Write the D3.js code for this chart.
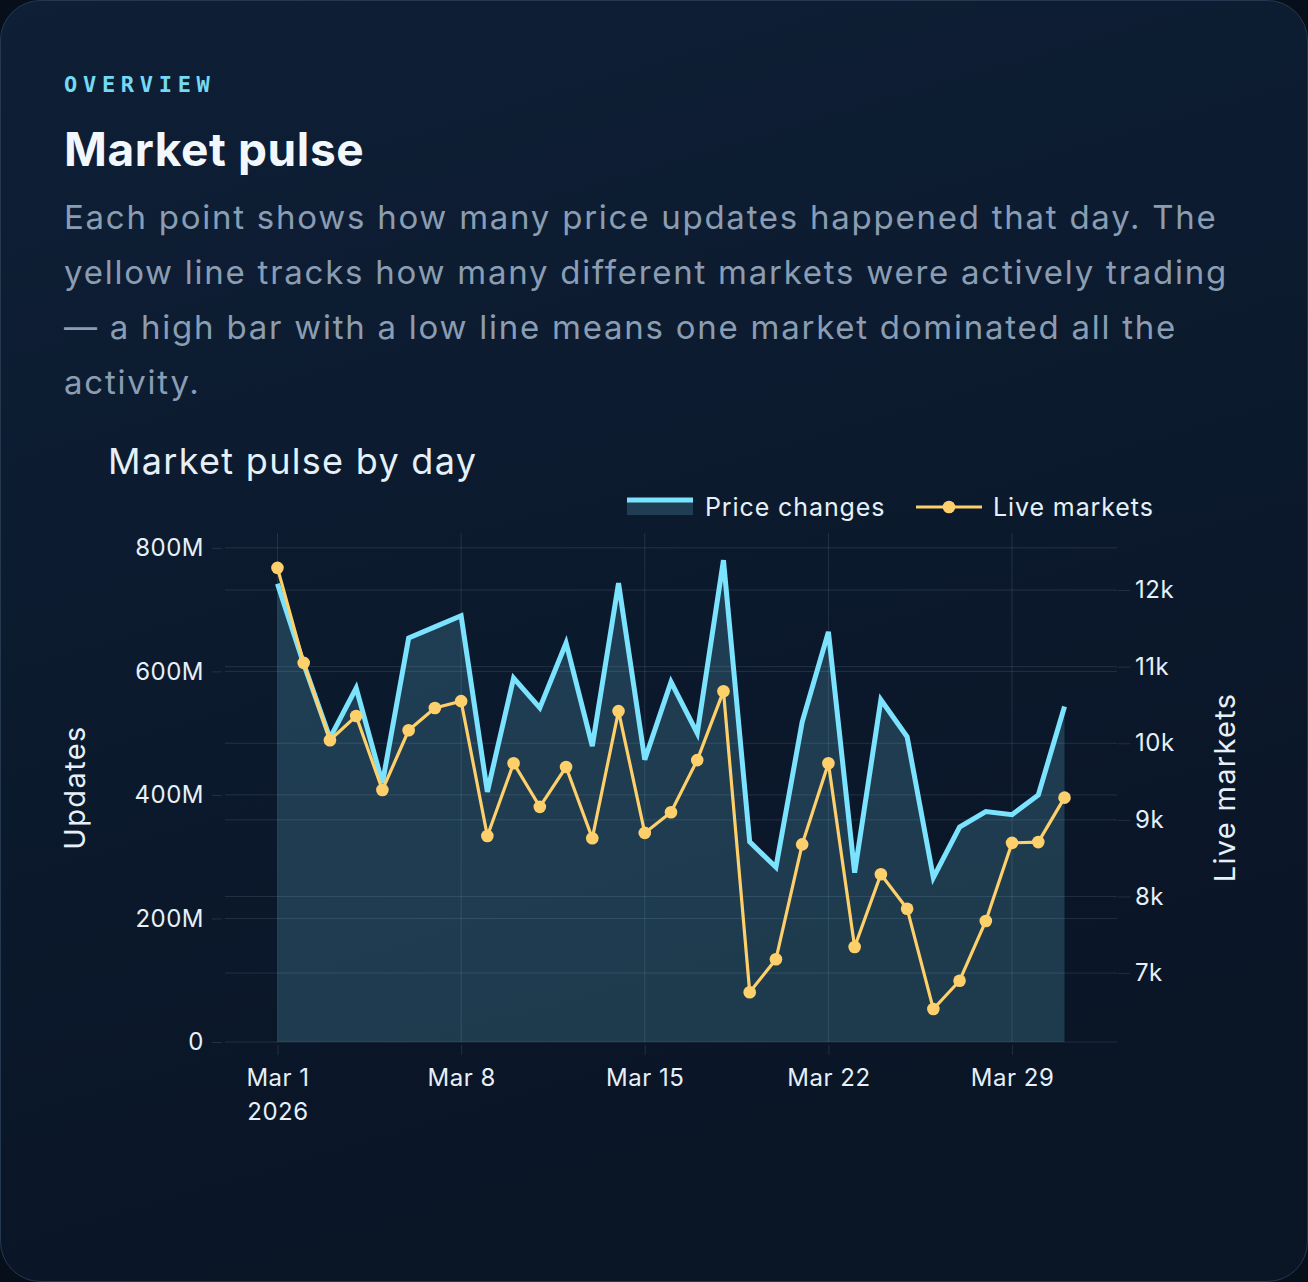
<!DOCTYPE html>
<html>
<head>
<meta charset="utf-8">
<script src="https://cdn.jsdelivr.net/npm/d3@7"></script>
<style>
  html, body { margin: 0; padding: 0; background: #070f1b; }
  svg { display: block; }
</style>
</head>
<body>
<script>
// daily values, Mar 1 .. Mar 31 2026
var days = d3.range(1, 32).map(d => new Date(2026, 2, d))
var priceChanges = [742, 612, 492, 573, 419, 654, 672, 690, 405, 589, 541, 646, 479, 743, 457, 583,
  500, 780, 324, 283, 518, 664, 274, 554, 494, 266, 348, 373, 368, 400, 543].map(v => v * 1e6)
var liveMarkets = [12290, 11050, 10040, 10355, 9390, 10170, 10460, 10550, 8790, 9740, 9170, 9690,
  8760, 10420, 8830, 9100, 9780, 10680, 6750, 7180, 8680, 9740, 7340, 8290, 7840, 6530, 6900,
  7680, 8700, 8710, 9290]
var leftTicks = [0, 200e6, 400e6, 600e6, 800e6]
var rightTicks = [7000, 8000, 9000, 10000, 11000, 12000]
var dateTicks = [1, 8, 15, 22, 29].map(d => new Date(2026, 2, d))
var paragraph = [
  'Each point shows how many price updates happened that day. The',
  'yellow line tracks how many different markets were actively trading',
  '\u2014 a high bar with a low line means one market dominated all the',
  'activity.'
]

const cyan = '#7be3fd'
const yellow = '#fdd06b'
const textCol = '#e6f0f8'
const gridCol = 'rgba(190,215,240,0.13)'
const font = 'Inter, "Noto Sans", sans-serif'

var W = 1308, H = 1282
var plot = {left: 225, right: 1117, top: 533, bottom: 1042}

const svg = d3.select('body').append('svg')
    .attr('width', W)
    .attr('height', H)

const defs = svg.append('defs')
const bg = defs.append('linearGradient').attr('id', 'cardBg')
    .attr('x1', 0).attr('y1', 0).attr('x2', 0.3).attr('y2', 1)
bg.append('stop').attr('offset', '0%').attr('stop-color', '#0e1f36')
bg.append('stop').attr('offset', '100%').attr('stop-color', '#0a1526')

svg.append('rect')
    .attr('x', 0.5).attr('y', 0.5)
    .attr('width', W - 1).attr('height', H - 1)
    .attr('rx', 40)
    .attr('fill', 'url(#cardBg)')
    .attr('stroke', '#253850')

// header texts
svg.append('text')
    .attr('x', 64).attr('y', 92)
    .attr('font-family', '"DejaVu Sans Mono", monospace')
    .attr('font-weight', 700)
    .attr('font-size', 22)
    .attr('letter-spacing', 5.7)
    .attr('fill', '#74d9f2')
    .text('OVERVIEW')

svg.append('text')
    .attr('x', 64).attr('y', 166)
    .attr('font-family', font)
    .attr('font-weight', 700)
    .attr('font-size', 46)
    .attr('letter-spacing', 0.6)
    .attr('fill', '#f2f7fc')
    .text('Market pulse')

const para = svg.append('text')
    .attr('font-family', font)
    .attr('font-size', 33)
    .attr('letter-spacing', 1.75)
    .attr('fill', '#8a9db2')
para.selectAll('tspan').data(paragraph).join('tspan')
    .attr('x', 64)
    .attr('y', (d, i) => 229 + i * 55)
    .text(d => d)

svg.append('text')
    .attr('x', 108).attr('y', 474)
    .attr('font-family', font)
    .attr('font-size', 36)
    .attr('letter-spacing', 1.3)
    .attr('fill', textCol)
    .text('Market pulse by day')

// scales
const x = d3.scaleTime()
    .domain([new Date(2026, 1, 27), new Date(2026, 3, 2)])
    .range([plot.left, plot.right])
const yL = d3.scaleLinear().domain([0, 824e6]).range([plot.bottom, plot.top])
const yR = d3.scaleLinear().domain([6100, 12745]).range([plot.bottom, plot.top])

const g = svg.append('g')

// grid
g.selectAll('.gridL').data(leftTicks).join('line')
    .attr('x1', plot.left).attr('x2', plot.right)
    .attr('y1', d => yL(d)).attr('y2', d => yL(d))
    .attr('stroke', gridCol)
g.selectAll('.gridR').data(rightTicks).join('line')
    .attr('x1', plot.left).attr('x2', plot.right)
    .attr('y1', d => yR(d)).attr('y2', d => yR(d))
    .attr('stroke', gridCol)
g.selectAll('.gridX').data(dateTicks).join('line')
    .attr('x1', d => x(d)).attr('x2', d => x(d))
    .attr('y1', plot.top).attr('y2', plot.bottom)
    .attr('stroke', gridCol)

// area + line for price changes
const area = d3.area()
    .x((d, i) => x(days[i]))
    .y0(yL(0))
    .y1(d => yL(d))
g.append('path')
    .attr('d', area(priceChanges))
    .attr('fill', cyan)
    .attr('fill-opacity', 0.18)

const lineL = d3.line()
    .x((d, i) => x(days[i]))
    .y(d => yL(d))
g.append('path')
    .attr('d', lineL(priceChanges))
    .attr('fill', 'none')
    .attr('stroke', cyan)
    .attr('stroke-width', 5)

const lineR = d3.line()
    .x((d, i) => x(days[i]))
    .y(d => yR(d))
g.append('path')
    .attr('d', lineR(liveMarkets))
    .attr('fill', 'none')
    .attr('stroke', yellow)
    .attr('stroke-width', 3.2)
g.selectAll('.dot').data(liveMarkets).join('circle')
    .attr('cx', (d, i) => x(days[i]))
    .attr('cy', d => yR(d))
    .attr('r', 6.3)
    .attr('fill', yellow)

// axes
const fmtL = d => d === 0 ? '0' : (d / 1e6) + 'M'
const axL = svg.append('g')
    .attr('transform', `translate(${plot.left - 3},0)`)
    .call(d3.axisLeft(yL).tickValues(leftTicks).tickFormat(fmtL).tickSize(10).tickPadding(8))
const axR = svg.append('g')
    .attr('transform', `translate(${plot.right + 1},0)`)
    .call(d3.axisRight(yR).tickValues(rightTicks).tickFormat(d => (d / 1000) + 'k').tickSize(12).tickPadding(5))
const axX = svg.append('g')
    .attr('transform', `translate(0,${plot.bottom + 3})`)
    .call(d3.axisBottom(x).tickValues(dateTicks).tickFormat(d3.timeFormat('Mar %-d')).tickSize(10).tickPadding(14))

;[axL, axR, axX].forEach(a => {
  a.select('.domain').remove()
  a.selectAll('line').attr('stroke', gridCol)
  a.selectAll('text')
      .attr('font-family', font)
      .attr('font-size', 24)
      .attr('letter-spacing', 0.5)
      .attr('fill', textCol)
})
axX.selectAll('.tick').filter((d, i) => i === 0).select('text')
    .append('tspan').attr('x', 0).attr('dy', '1.4em').text('2026')

svg.append('text')
    .attr('transform', `translate(85,${(plot.top + plot.bottom) / 2}) rotate(-90)`)
    .attr('text-anchor', 'middle')
    .attr('font-family', font)
    .attr('font-size', 29)
    .attr('letter-spacing', 1.4)
    .attr('fill', textCol)
    .text('Updates')
svg.append('text')
    .attr('transform', `translate(1235,${(plot.top + plot.bottom) / 2}) rotate(-90)`)
    .attr('text-anchor', 'middle')
    .attr('font-family', font)
    .attr('font-size', 29)
    .attr('letter-spacing', 1.3)
    .attr('fill', textCol)
    .text('Live markets')

// legend
const leg = svg.append('g').attr('transform', 'translate(0,507)')
leg.append('rect')
    .attr('x', 627).attr('y', -8).attr('width', 66).attr('height', 16)
    .attr('fill', cyan).attr('fill-opacity', 0.18)
leg.append('line')
    .attr('x1', 627).attr('x2', 693).attr('y1', -7).attr('y2', -7)
    .attr('stroke', cyan).attr('stroke-width', 5)
leg.append('text')
    .attr('x', 705).attr('y', 9)
    .attr('font-family', font).attr('font-size', 25).attr('letter-spacing', 0.9).attr('fill', textCol)
    .text('Price changes')
leg.append('line')
    .attr('x1', 916).attr('x2', 982).attr('y1', 0).attr('y2', 0)
    .attr('stroke', yellow).attr('stroke-width', 3.2)
leg.append('circle')
    .attr('cx', 949).attr('cy', 0).attr('r', 6.3).attr('fill', yellow)
leg.append('text')
    .attr('x', 993).attr('y', 9)
    .attr('font-family', font).attr('font-size', 25).attr('letter-spacing', 0.9).attr('fill', textCol)
    .text('Live markets')
</script>
</body>
</html>
